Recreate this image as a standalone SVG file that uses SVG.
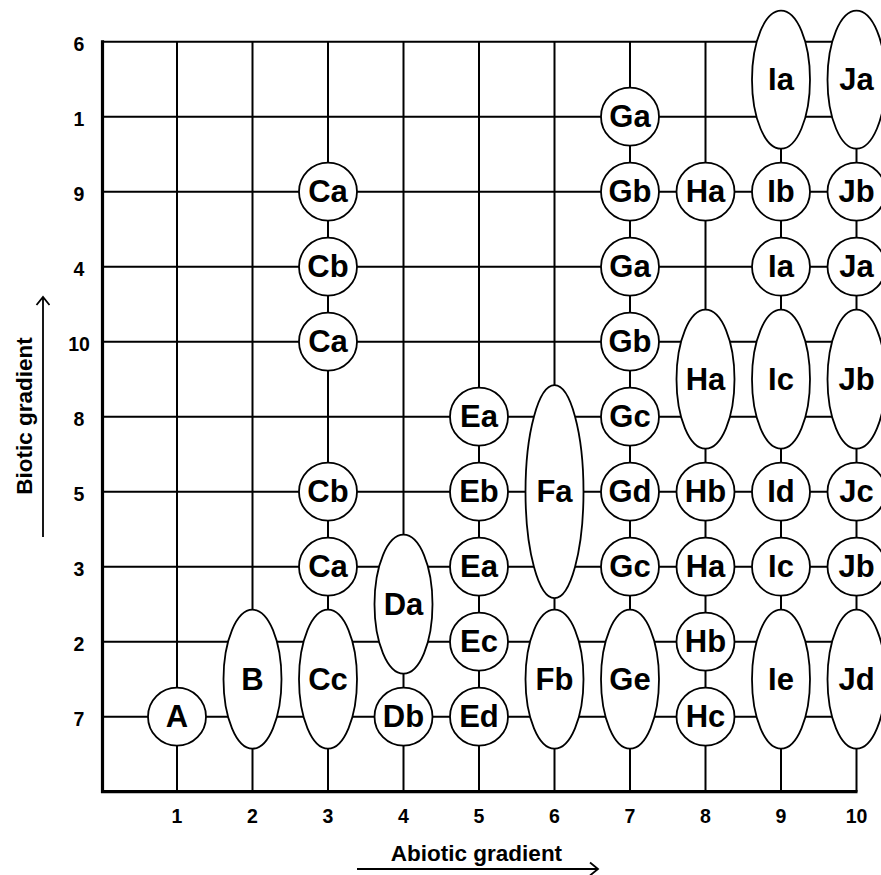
<svg xmlns="http://www.w3.org/2000/svg" width="881" height="875" viewBox="0 0 881 875">
<style>
.g{stroke:#000;stroke-width:2;fill:none}
.ax{stroke:#000;stroke-width:3.2;fill:none}
.n{fill:#fff;stroke:#000;stroke-width:1.8}
.t{font-family:"Liberation Sans",Arial,sans-serif;font-weight:bold;font-size:31px;text-anchor:middle;fill:#000}
.k{font-family:"Liberation Sans",Arial,sans-serif;font-weight:bold;font-size:19.5px;text-anchor:middle;fill:#000}
.lab{font-family:"Liberation Sans",Arial,sans-serif;font-weight:bold;font-size:22.5px;text-anchor:middle;fill:#000}
.ar{stroke:#000;stroke-width:1.8;fill:none}
</style>
<rect width="881" height="875" fill="#fff"/>
<g id="connectors">
<path class="g" d="M102 41.7H856.5M102 116.7H856.5M102 191.7H856.5M102 266.7H856.5M102 341.7H856.5M102 416.7H856.5M102 491.7H856.5M102 566.7H856.5M102 641.7H856.5M102 716.7H856.5"/>
<path class="g" d="M177 41.7V791.7M252.5 41.7V791.7M328 41.7V791.7M403.5 41.7V791.7M479 41.7V791.7M554.5 41.7V791.7M630 41.7V791.7M705.5 41.7V791.7M781 41.7V791.7M856.5 41.7V791.7"/>
<path class="ax" d="M102.5 40.2V791.7H857.5"/>
</g>
<g id="axes-labels">
<text class="k" x="79" y="50.5">6</text>
<text class="k" x="79" y="125.5">1</text>
<text class="k" x="79" y="200.5">9</text>
<text class="k" x="79" y="275.5">4</text>
<text class="k" x="79" y="350.5">10</text>
<text class="k" x="79" y="425.5">8</text>
<text class="k" x="79" y="500.5">5</text>
<text class="k" x="79" y="575.5">3</text>
<text class="k" x="79" y="650.5">2</text>
<text class="k" x="79" y="725.5">7</text>
<text class="k" x="177" y="823">1</text>
<text class="k" x="252.5" y="823">2</text>
<text class="k" x="328" y="823">3</text>
<text class="k" x="403.5" y="823">4</text>
<text class="k" x="479" y="823">5</text>
<text class="k" x="554.5" y="823">6</text>
<text class="k" x="630" y="823">7</text>
<text class="k" x="705.5" y="823">8</text>
<text class="k" x="781" y="823">9</text>
<text class="k" x="856.5" y="823">10</text>
<text class="lab" x="476.5" y="861">Abiotic gradient</text>
<path class="ar" d="M357 869H598M590 862.5L598 869L590 875.5"/>
<text class="lab" transform="translate(32 416) rotate(-90)">Biotic gradient</text>
<path class="ar" d="M43 537V297M36.5 305L43 297L49.5 305"/>
</g>
<g id="A"><circle class="n" cx="177" cy="716.7" r="29"/><text class="t" x="177" y="727">A</text></g>
<g id="B"><ellipse class="n" cx="252.5" cy="679.2" rx="29" ry="69.5"/><text class="t" x="252.5" y="689.5">B</text></g>
<g id="Ca1"><circle class="n" cx="328" cy="191.7" r="29"/><text class="t" x="328" y="202">Ca</text></g>
<g id="Cb1"><circle class="n" cx="328" cy="266.7" r="29"/><text class="t" x="328" y="277">Cb</text></g>
<g id="Ca2"><circle class="n" cx="328" cy="341.7" r="29"/><text class="t" x="328" y="352">Ca</text></g>
<g id="Cb2"><circle class="n" cx="328" cy="491.7" r="29"/><text class="t" x="328" y="502">Cb</text></g>
<g id="Ca3"><circle class="n" cx="328" cy="566.7" r="29"/><text class="t" x="328" y="577">Ca</text></g>
<g id="Cc"><ellipse class="n" cx="328" cy="679.2" rx="29" ry="69.5"/><text class="t" x="328" y="689.5">Cc</text></g>
<g id="Da"><ellipse class="n" cx="403.5" cy="604.2" rx="29" ry="69.5"/><text class="t" x="403.5" y="614.5">Da</text></g>
<g id="Db"><circle class="n" cx="403.5" cy="716.7" r="29"/><text class="t" x="403.5" y="727">Db</text></g>
<g id="Ea1"><circle class="n" cx="479" cy="416.7" r="29"/><text class="t" x="479" y="427">Ea</text></g>
<g id="Eb"><circle class="n" cx="479" cy="491.7" r="29"/><text class="t" x="479" y="502">Eb</text></g>
<g id="Ea2"><circle class="n" cx="479" cy="566.7" r="29"/><text class="t" x="479" y="577">Ea</text></g>
<g id="Ec"><circle class="n" cx="479" cy="641.7" r="29"/><text class="t" x="479" y="652">Ec</text></g>
<g id="Ed"><circle class="n" cx="479" cy="716.7" r="29"/><text class="t" x="479" y="727">Ed</text></g>
<g id="Fa"><ellipse class="n" cx="554.5" cy="491.7" rx="29" ry="106.5"/><text class="t" x="554.5" y="502">Fa</text></g>
<g id="Fb"><ellipse class="n" cx="554.5" cy="679.2" rx="29" ry="69.5"/><text class="t" x="554.5" y="689.5">Fb</text></g>
<g id="Ga1"><circle class="n" cx="630" cy="116.7" r="29"/><text class="t" x="630" y="127">Ga</text></g>
<g id="Gb1"><circle class="n" cx="630" cy="191.7" r="29"/><text class="t" x="630" y="202">Gb</text></g>
<g id="Ga2"><circle class="n" cx="630" cy="266.7" r="29"/><text class="t" x="630" y="277">Ga</text></g>
<g id="Gb2"><circle class="n" cx="630" cy="341.7" r="29"/><text class="t" x="630" y="352">Gb</text></g>
<g id="Gc1"><circle class="n" cx="630" cy="416.7" r="29"/><text class="t" x="630" y="427">Gc</text></g>
<g id="Gd"><circle class="n" cx="630" cy="491.7" r="29"/><text class="t" x="630" y="502">Gd</text></g>
<g id="Gc2"><circle class="n" cx="630" cy="566.7" r="29"/><text class="t" x="630" y="577">Gc</text></g>
<g id="Ge"><ellipse class="n" cx="630" cy="679.2" rx="29" ry="69.5"/><text class="t" x="630" y="689.5">Ge</text></g>
<g id="Ha1"><circle class="n" cx="705.5" cy="191.7" r="29"/><text class="t" x="705.5" y="202">Ha</text></g>
<g id="Ha2"><ellipse class="n" cx="705.5" cy="379.2" rx="29" ry="69.5"/><text class="t" x="705.5" y="389.5">Ha</text></g>
<g id="Hb1"><circle class="n" cx="705.5" cy="491.7" r="29"/><text class="t" x="705.5" y="502">Hb</text></g>
<g id="Ha3"><circle class="n" cx="705.5" cy="566.7" r="29"/><text class="t" x="705.5" y="577">Ha</text></g>
<g id="Hb2"><circle class="n" cx="705.5" cy="641.7" r="29"/><text class="t" x="705.5" y="652">Hb</text></g>
<g id="Hc"><circle class="n" cx="705.5" cy="716.7" r="29"/><text class="t" x="705.5" y="727">Hc</text></g>
<g id="Ia1"><ellipse class="n" cx="781" cy="79.7" rx="29" ry="69"/><text class="t" x="781" y="90">Ia</text></g>
<g id="Ib"><circle class="n" cx="781" cy="191.7" r="29"/><text class="t" x="781" y="202">Ib</text></g>
<g id="Ia2"><circle class="n" cx="781" cy="266.7" r="29"/><text class="t" x="781" y="277">Ia</text></g>
<g id="Ic1"><ellipse class="n" cx="781" cy="379.2" rx="29" ry="69.5"/><text class="t" x="781" y="389.5">Ic</text></g>
<g id="Id"><circle class="n" cx="781" cy="491.7" r="29"/><text class="t" x="781" y="502">Id</text></g>
<g id="Ic2"><circle class="n" cx="781" cy="566.7" r="29"/><text class="t" x="781" y="577">Ic</text></g>
<g id="Ie"><ellipse class="n" cx="781" cy="679.2" rx="29" ry="69.5"/><text class="t" x="781" y="689.5">Ie</text></g>
<g id="Ja1"><ellipse class="n" cx="856.5" cy="79.7" rx="29" ry="69"/><text class="t" x="856.5" y="90">Ja</text></g>
<g id="Jb1"><circle class="n" cx="856.5" cy="191.7" r="29"/><text class="t" x="856.5" y="202">Jb</text></g>
<g id="Ja2"><circle class="n" cx="856.5" cy="266.7" r="29"/><text class="t" x="856.5" y="277">Ja</text></g>
<g id="Jb2"><ellipse class="n" cx="856.5" cy="379.2" rx="29" ry="69.5"/><text class="t" x="856.5" y="389.5">Jb</text></g>
<g id="Jc"><circle class="n" cx="856.5" cy="491.7" r="29"/><text class="t" x="856.5" y="502">Jc</text></g>
<g id="Jb3"><circle class="n" cx="856.5" cy="566.7" r="29"/><text class="t" x="856.5" y="577">Jb</text></g>
<g id="Jd"><ellipse class="n" cx="856.5" cy="679.2" rx="29" ry="69.5"/><text class="t" x="856.5" y="689.5">Jd</text></g>
</svg>
